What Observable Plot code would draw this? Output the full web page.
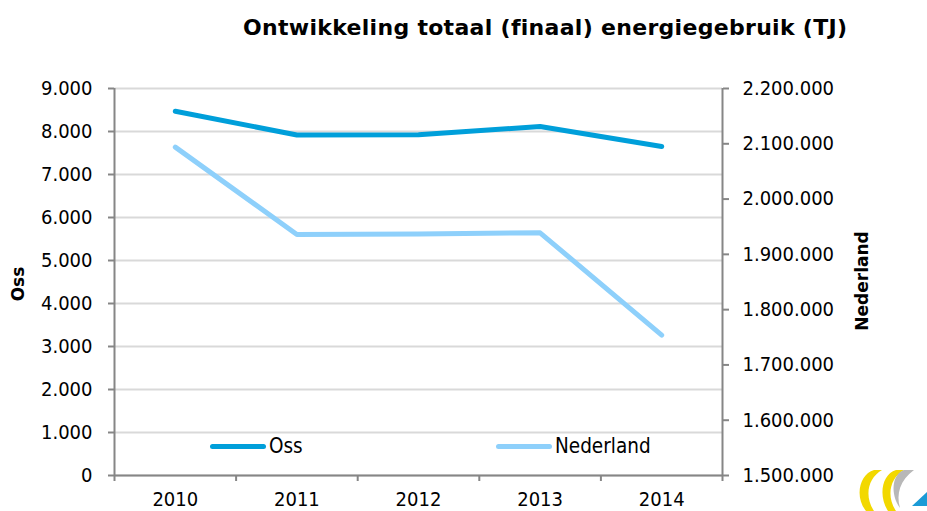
<!DOCTYPE html>
<html>
<head>
<meta charset="utf-8">
<script src="https://cdn.jsdelivr.net/npm/d3@7"></script>
<script src="https://cdn.jsdelivr.net/npm/@observablehq/plot@0.6"></script>
<style>
  body { margin: 0; background: #fff; }
  #wrap { position: relative; width: 927px; height: 511px; font-family: "DejaVu Sans Condensed", "DejaVu Sans", sans-serif; color: #000; }
  #title { position: absolute; left: 243px; top: 15px; font-family: "DejaVu Sans", sans-serif; font-weight: bold; font-size: 22px; white-space: nowrap; letter-spacing: 0.3px; }
  .leg { position: absolute; top: 434px; height: 24px; display: flex; align-items: center; font-size: 20.5px; }
  .sw { width: 56px; height: 5px; border-radius: 3px; margin-right: 3px; }
  #logo { position: absolute; left: 852px; top: 466px; }
</style>
</head>
<body>
<div id="wrap">
  <div id="title">Ontwikkeling totaal (finaal) energiegebruik (TJ)</div>
  <div id="chart"></div>
  <div class="leg" style="left:210px"><div class="sw" style="background:#009fda"></div>Oss</div>
  <div class="leg" style="left:496px"><div class="sw" style="background:#8ed0fb"></div>Nederland</div>
  <svg id="logo" width="75" height="45" viewBox="0 0 75 45">
    <path d="M22 4 C8 8 2 30 14 45 L22 45 C12 30 16 12 30 4 Z" fill="#f2d800"/>
    <path d="M44 4 C30 8 26 30 36 45 L44 45 C34 30 38 12 52 4 Z" fill="#f2d800"/>
    <path d="M52 4 C40 8 38 28 48 42 C44 28 48 14 62 4 Z" fill="#b8b8b8"/>
    <path d="M60 40 L75 26 L75 40 Z" fill="#1a9ad6"/>
  </svg>
</div>
<script>
const years = [2010, 2011, 2012, 2013, 2014];
const oss = [8470, 7920, 7925, 8115, 7650];
const nederland = [2094000, 1936000, 1937000, 1939000, 1754000];
const leftTicks = [0, 1000, 2000, 3000, 4000, 5000, 6000, 7000, 8000, 9000];
const rightTicks = [1500000, 1600000, 1700000, 1800000, 1900000, 2000000, 2100000, 2200000];
const rightMin = 1500000, rightMax = 2200000, leftMax = 9000;

const locale = d3.formatLocale({decimal: ",", thousands: ".", grouping: [3], currency: ["€", ""]});
const fmt = locale.format(",d");
const toLeft = v => (v - rightMin) / (rightMax - rightMin) * leftMax;
const toRight = y => rightMin + y / leftMax * (rightMax - rightMin);

const ossData = years.map((y, i) => ({year: y, value: oss[i]}));
const nlData = years.map((y, i) => ({year: y, value: toLeft(nederland[i])}));
const bounds = [2009.5, 2010.5, 2011.5, 2012.5, 2013.5, 2014.5];
const axisColor = "#868686";

const chart = Plot.plot({
  width: 927,
  height: 511,
  marginLeft: 114,
  marginRight: 205,
  marginTop: 88,
  marginBottom: 36,
  style: {fontFamily: "'DejaVu Sans Condensed', 'DejaVu Sans', sans-serif", fontSize: "20px", color: "#000", background: "transparent"},
  x: {type: "linear", domain: [2009.5, 2014.5]},
  y: {domain: [0, leftMax]},
  marks: [
    Plot.gridY(leftTicks, {stroke: "#d9d9d9", strokeWidth: 2, strokeOpacity: 1}),
    Plot.ruleX([2009.5, 2014.5], {stroke: axisColor, strokeWidth: 2}),
    Plot.ruleY([0], {stroke: axisColor, strokeWidth: 2}),
    Plot.axisY({ticks: leftTicks, anchor: "left", tickSize: 6, tickPadding: 16, tickFormat: fmt, stroke: axisColor, strokeWidth: 2, label: null, fontSize: 20}),
    Plot.axisY({ticks: rightTicks.map(toLeft), anchor: "right", tickSize: 6, tickPadding: 14, tickFormat: d => fmt(Math.round(toRight(d))), stroke: axisColor, strokeWidth: 2, label: null, fontSize: 20}),
    Plot.axisX({ticks: bounds, tickSize: 6, tickFormat: () => "", stroke: axisColor, strokeWidth: 2, label: null}),
    Plot.axisX({ticks: years, tickSize: 0, tickPadding: 16, tickFormat: d => String(d), label: null, fontSize: 20}),
    Plot.line(nlData, {x: "year", y: "value", stroke: "#8ed0fb", strokeWidth: 5, strokeLinecap: "round", strokeLinejoin: "round"}),
    Plot.line(ossData, {x: "year", y: "value", stroke: "#009fda", strokeWidth: 5, strokeLinecap: "round", strokeLinejoin: "round"}),
    Plot.text(["Oss"], {frameAnchor: "left", dx: -96, dy: 2, rotate: -90, textAnchor: "middle", fontWeight: "bold", fontSize: 17, fontFamily: "DejaVu Sans, sans-serif"}),
    Plot.text(["Nederland"], {frameAnchor: "right", dx: 140, dy: -1, rotate: -90, textAnchor: "middle", fontWeight: "bold", fontSize: 17, fontFamily: "DejaVu Sans, sans-serif"})
  ]
});
document.getElementById("chart").appendChild(chart);
</script>
</body>
</html>
